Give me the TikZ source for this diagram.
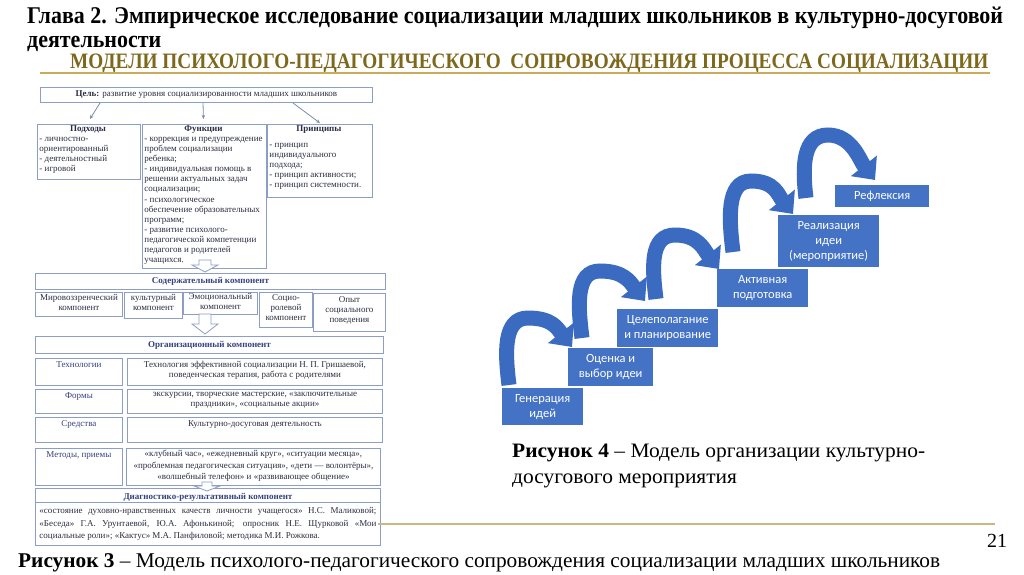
\documentclass[tikz,border=0pt]{standalone}
\usepackage{fontspec}
\setmainfont{Liberation Serif}
\newfontfamily\carl{Carlito}
\usetikzlibrary{arrows.meta,calc}
\definecolor{boxc}{HTML}{8C9DC6}
\definecolor{txtc}{HTML}{2B2E40}
\definecolor{labc}{HTML}{34427E}
\definecolor{arrgray}{HTML}{7D8BAE}
\definecolor{blueb}{HTML}{4472C4}
\definecolor{bluea}{HTML}{3B6BC0}
\definecolor{goldt}{HTML}{7E681C}
\definecolor{goldl}{HTML}{C8AC58}
\definecolor{goldm}{HTML}{CDB684}
\newlength\lenA
\newlength\lenB
\newlength\lenC
\newlength\lenD
% box by corners: name, x1, y1, x2, y2, inner vertical pos, options, text
\newcommand\bx[8]{\node[lbox,anchor=north west,#7] (#1) at (#2,#3) {\begin{minipage}[c][\dimexpr#5pt-#3pt\relax][#6]{\dimexpr#4pt-#2pt\relax}#8\end{minipage}};}
\newcommand\ttl[1]{\makebox[\dimexpr\linewidth-6pt\relax]{\textbf{#1}}}
\begin{document}
\settowidth\lenA{\fontsize{24}{28}\selectfont\bfseries Глава 2. Эмпирическое исследование социализации младших школьников в культурно-досуговой}
\settowidth\lenB{\fontsize{22}{26}\selectfont\bfseries МОДЕЛИ ПСИХОЛОГО-ПЕДАГОГИЧЕСКОГО\ \ СОПРОВОЖДЕНИЯ ПРОЦЕССА СОЦИАЛИЗАЦИИ}
\settowidth\lenC{\fontsize{20.5}{26}\selectfont\textbf{Рисунок 4} – Модель организации культурно-}
\settowidth\lenD{\fontsize{21}{26}\selectfont\textbf{Рисунок 3} – Модель психолого-педагогического сопровождения социализации младших школьников}
\pgfmathsetmacro\sA{976/\lenA}
\pgfmathsetmacro\sB{918/\lenB}
\pgfmathsetmacro\sC{413/\lenC}
\pgfmathsetmacro\sD{922/\lenD}
\begin{tikzpicture}[x=1pt,y=-1pt,
  lbox/.style={draw=boxc,line width=0.9pt,fill=white,inner sep=0pt,text=txtc,font=\fontsize{9}{10.1}\selectfont},
  rbox/.style={fill=blueb,text=white,inner sep=0pt,align=center,font=\carl\fontsize{12.5}{15}\selectfont},
  thinarr/.style={draw=arrgray,line width=0.8pt,-{Stealth[length=4pt,width=3.5pt]}},
  curv/.style={draw=bluea,line width=15pt,-{Triangle[width=32pt,length=18pt]}},
  hollow/.style={draw=boxc,line width=0.8pt,fill=white}]
\useasboundingbox (0,0) rectangle (1024,574);
\fill[white] (0,0) rectangle (1024,574);

% ---------- titles
\node[anchor=base west,inner sep=0,font=\fontsize{24}{28}\selectfont\bfseries] (title1) at (27,23)
  {\scalebox{\sA}[1]{Глава 2. Эмпирическое исследование социализации младших школьников в культурно-досуговой}};
\node[anchor=base west,inner sep=0,font=\fontsize{24}{28}\selectfont\bfseries] (title2) at (27,47)
  {\scalebox{\sA}[1]{деятельности}};
\node[anchor=base west,inner sep=0,text=goldt,font=\fontsize{22}{26}\selectfont\bfseries] (sub) at (70,68)
  {\scalebox{\sB}[1]{МОДЕЛИ ПСИХОЛОГО-ПЕДАГОГИЧЕСКОГО\ \ СОПРОВОЖДЕНИЯ ПРОЦЕССА СОЦИАЛИЗАЦИИ}};
\draw[goldl,line width=2.2pt] (40,73) -- (990,73);

% ---------- left model
\bx{goal}{40}{87}{372}{102}{c}{}{\centering\textbf{Цель:} развитие уровня социализированности младших школьников}
\bx{podh}{37}{124}{140}{179}{t}{}{\vspace*{1pt}\raggedright\leftskip=2pt\ttl{Подходы}\\- личностно-\\ориентированный\\- деятельностный\\- игровой}
\bx{func}{142}{124}{266}{268}{t}{}{\vspace*{1pt}\raggedright\leftskip=2pt\ttl{Функции}\\- коррекция и предупреждение\\проблем социализации\\ребенка;\\- индивидуальная помощь в\\решении актуальных задач\\социализации;\\- психологическое\\обеспечение образовательных\\программ;\\- развитие психолого-\\педагогической компетенции\\педагогов и родителей\\учащихся.}
\bx{princ}{267}{124}{372}{197}{t}{}{\vspace*{1pt}\raggedright\leftskip=2pt\ttl{Принципы}\\[6pt]- принцип\\индивидуального\\подхода;\\- принцип активности;\\- принцип системности.}
\coordinate (g1) at (100,103);
\coordinate (g2) at (203,103);
\coordinate (g3) at (293,103);
\draw[thinarr] (g1) -- ($(podh.north)+(1,-5)$);
\draw[thinarr] (g2) -- ($(func.north)+(-1,-5)$);
\draw[thinarr] (g3) -- ($(princ.north)+(0,-1)$);

\bx{soder}{35}{273}{385}{289}{c}{text=labc}{\centering\textbf{Содержательный компонент}}
\draw[hollow] (199,260) -- (211,260) -- (211,265) -- (218,265) -- (205,272) -- (192,265) -- (199,265) -- cycle;
\bx{mir}{35}{292}{122}{316}{t}{}{\vspace*{2pt}\centering Мировоззренческий\\компонент}
\bx{kult}{124}{292}{182}{318}{t}{}{\vspace*{2pt}\centering культурный\\компонент}
\bx{emo}{183}{292}{257}{314}{t}{}{\vspace*{1pt}\centering Эмоциональный\\компонент}
\bx{soc}{259}{292}{312}{327}{t}{}{\vspace*{2pt}\centering Социо-\\ролевой\\компонент}
\bx{opyt}{313}{293}{385}{331}{t}{}{\vspace*{3pt}\centering Опыт\\социального\\поведения}
\draw[hollow] (199,314) -- (211,314) -- (211,324) -- (218,324) -- (205,334) -- (192,324) -- (199,324) -- cycle;

\bx{org}{35}{336}{383}{353}{c}{text=labc}{\centering\textbf{Организационный компонент}}
\bx{techL}{35}{358}{122}{385}{t}{text=labc}{\vspace*{3pt}\centering Технологии}
\bx{techR}{127}{358}{382}{385}{t}{}{\vspace*{3pt}\centering Технология эффективной социализации Н. П. Гришаевой,\\поведенческая терапия, работа с родителями}
\bx{formL}{35}{389}{122}{413}{t}{text=labc}{\vspace*{3pt}\centering Формы}
\bx{formR}{127}{389}{382}{413}{t}{}{\vspace*{3pt}\centering экскурсии, творческие мастерские, «заключительные\\праздники», «социальные акции»}
\bx{sredL}{35}{417}{122}{442}{t}{text=labc}{\vspace*{3pt}\centering Средства}
\bx{sredR}{127}{417}{382}{442}{t}{}{\vspace*{3pt}\centering Культурно-досуговая деятельность}
\bx{metL}{35}{448}{122}{485}{t}{text=labc}{\vspace*{3pt}\centering Методы, приемы}
\bx{metR}{126}{448}{380}{485}{t}{}{\vspace*{2pt}\centering\fontsize{9}{11.2}\selectfont «клубный час», «ежедневный круг», «ситуации месяца»,\\«проблемная педагогическая ситуация», «дети — волонтёры»,\\«волшебный телефон» и «развивающее общение»}
\bx{diagB}{35}{502}{380}{545}{c}{}{\fontsize{9}{12.3}\selectfont\leftskip=4pt\rightskip=4pt «состояние духовно-нравственных качеств личности учащегося» Н.С. Маликовой;\linebreak «Беседа» Г.А. Урунтаевой, Ю.А. Афонькиной; опросник Н.Е. Щурковой «Мои\linebreak социальные роли»; «Кактус» М.А. Панфиловой; методика М.И. Рожкова.\par}
\bx{diagH}{35}{488}{380}{502}{t}{text=labc}{\vspace*{4.5pt}\centering\textbf{Диагностико-результативный компонент}}
\draw[hollow] (202,482) -- (212,482) -- (212,486) -- (220,486) -- (207,491) -- (194,486) -- (202,486) -- cycle;

% ---------- right model: curved arrows
\coordinate (t1) at (509,385); \coordinate (a1) at (528,318); \coordinate (h1) at (572,347);
\coordinate (t2) at (582,338); \coordinate (a2) at (600,271); \coordinate (h2) at (645,301);
\coordinate (t3) at (656,299); \coordinate (a3) at (675,235); \coordinate (h3) at (719,269);
\coordinate (t4) at (733,252); \coordinate (a4) at (751,181); \coordinate (h4) at (793,214);
\coordinate (t5) at (806,198); \coordinate (a5) at (828,135); \coordinate (h5) at (875,180);
\foreach \i in {1,...,5}{
  \draw[curv] (t\i) .. controls ($(t\i)+(-4,-32)$) and ($(a\i)+(-25,0)$) .. (a\i)
     .. controls ($(a\i)+(24,0)$) and ($(h\i)+(-15,-19)$) .. (h\i);
}
\node[rbox,anchor=north west,minimum width=81pt,minimum height=37pt] (gen) at (502,388) {Генерация\\идей};
\node[rbox,anchor=north west,minimum width=85pt,minimum height=38pt] (ocen) at (568,348) {Оценка и\\выбор идеи};
\node[rbox,anchor=north west,minimum width=101pt,minimum height=38pt] (cel) at (617,309) {Целеполагание\\и планирование};
\node[rbox,anchor=north west,minimum width=91pt,minimum height=38pt] (akt) at (717,269) {Активная\\подготовка};
\node[rbox,anchor=north west,minimum width=101pt,minimum height=52pt] (real) at (778,215) {Реализация\\идеи\\(мероприятие)};
\node[rbox,anchor=north west,minimum width=94pt,minimum height=22pt] (refl) at (835,185) {Рефлексия};

% ---------- captions
\node[anchor=base west,inner sep=0,font=\fontsize{20.5}{26}\selectfont] (cap4a) at (512,457)
  {\scalebox{\sC}[1]{\textbf{Рисунок 4} – Модель организации культурно-}};
\node[anchor=base west,inner sep=0,font=\fontsize{20.5}{26}\selectfont] (cap4b) at (512,483)
  {\scalebox{\sC}[1]{досугового мероприятия}};
\draw[goldm,line width=1.5pt] (378,524) -- (995,524);
\node[anchor=base west,inner sep=0,font=\fontsize{20}{24}\selectfont] (pnum) at (987,547) {21};
\node[anchor=base west,inner sep=0,font=\fontsize{21}{26}\selectfont] (cap3) at (18,567)
  {\scalebox{\sD}[1]{\textbf{Рисунок 3} – Модель психолого-педагогического сопровождения социализации младших школьников}};
\end{tikzpicture}
\end{document}
